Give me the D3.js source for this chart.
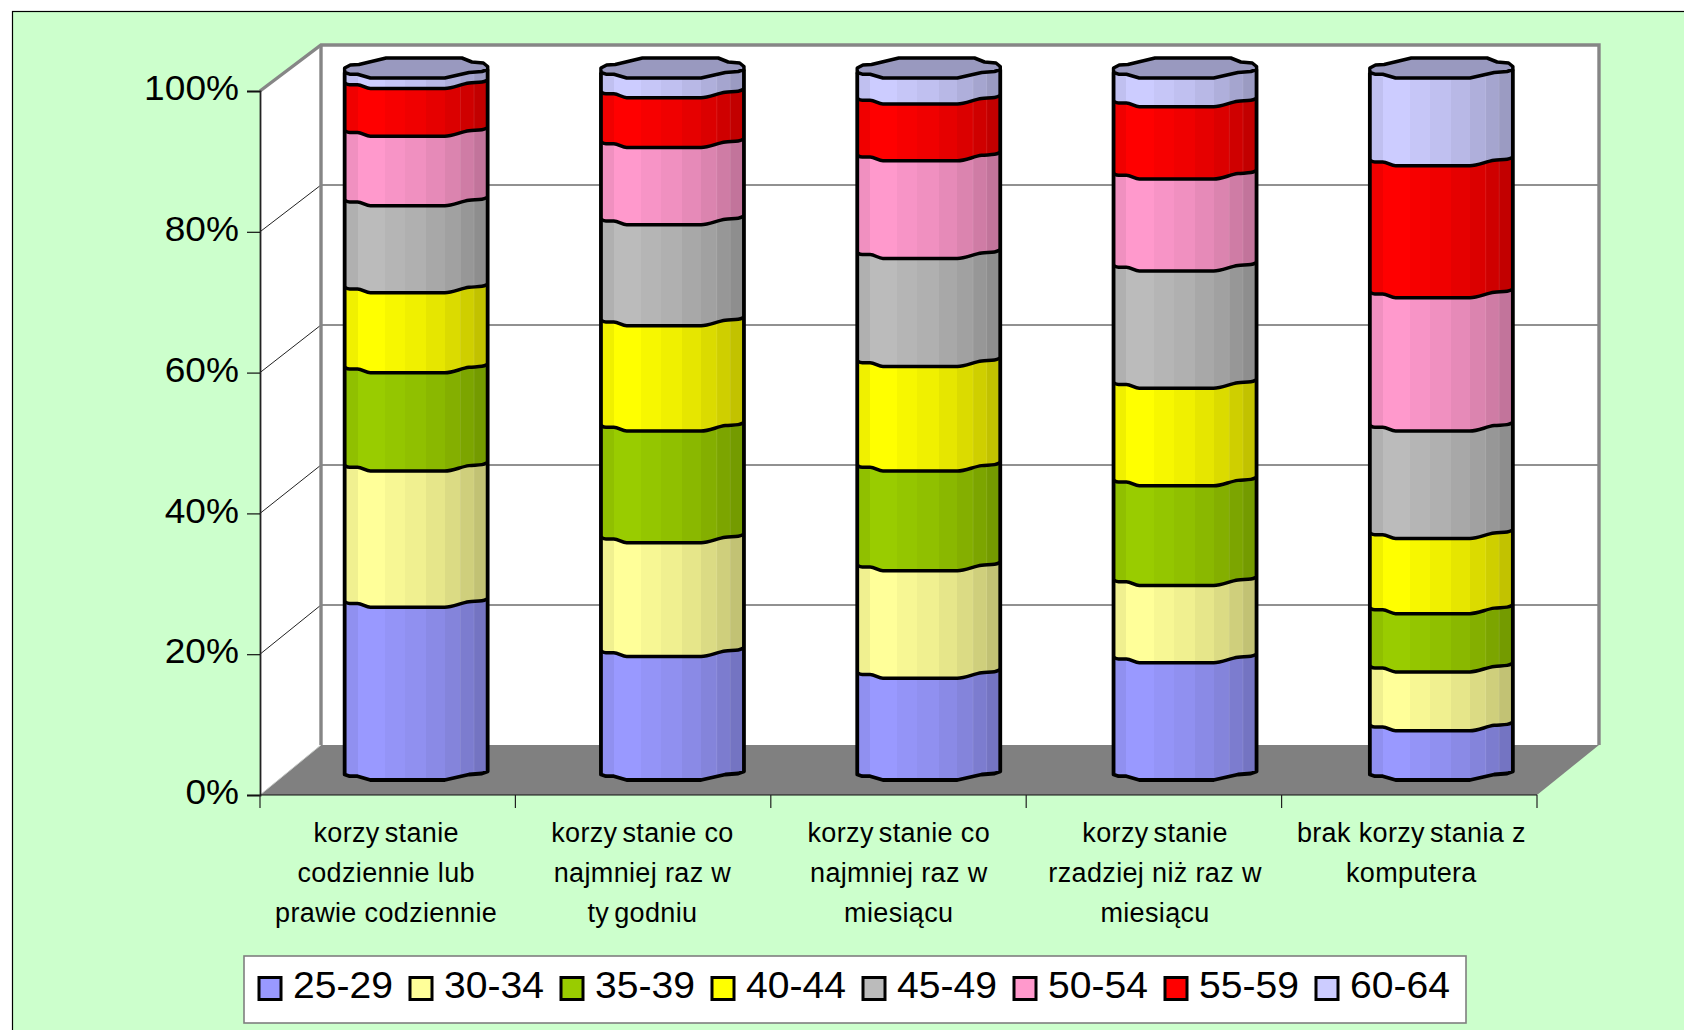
<!DOCTYPE html>
<html lang="pl">
<head>
<meta charset="utf-8">
<title>Korzystanie z komputera a wiek</title>
<script src="https://cdn.jsdelivr.net/npm/d3@7/dist/d3.min.js"></script>
<style>
  html, body { margin: 0; padding: 0; background: #fff; }
  svg { display: block; font-family: "Liberation Sans", Arial, sans-serif; }
</style>
</head>
<body>
<svg id="chart" width="1684" height="1030"></svg>
<script>
// Usage groups, one stacked cylinder each; each group is wrapped over several label lines.
const categories = [
  ["korzystanie", "codziennie lub", "prawie codziennie"],
  ["korzystanie co", "najmniej raz w", "tygodniu"],
  ["korzystanie co", "najmniej raz w", "miesiącu"],
  ["korzystanie", "rzadziej niż raz w", "miesiącu"],
  ["brak korzystania z", "komputera"]
];
const ageGroups = ["25-29", "30-34", "35-39", "40-44", "45-49", "50-54", "55-59", "60-64"];
const colours = ["#9999ff", "#ffff99", "#99cc00", "#ffff00", "#bbbbbb", "#ff99cc", "#ff0000", "#ccccff"];

// Percentage share of each age group in the five usage groups.
const age2529 = [24.6, 17.6, 14.5, 16.7, 7.0];
const age3034 = [19.4, 16.2, 15.3, 11.0, 8.4];
const age3539 = [14.0, 15.9, 14.2, 14.2, 8.3];
const age4044 = [11.4, 15.0, 14.9, 13.9, 10.7];
const age4549 = [12.4, 14.4, 15.4, 16.7, 15.3];
const age5054 = [9.9, 11.0, 13.9, 13.1, 19.0];
const age5559 = [6.8, 7.1, 8.1, 10.3, 18.8];
const age6064 = [1.5, 2.8, 3.7, 4.1, 12.5];
const seriesValues = [age2529, age3034, age3539, age4044, age4549, age5054, age5559, age6064];
const yTicks = [0, 0.2, 0.4, 0.6, 0.8, 1];

// Faceted cylinder outline: offsets along the bar width for a band edge, and for the cap's far rim.
const rimNear = [[0, -5.5], [0.035, -3.8], [0.09, -3.8], [0.18, 0], [0.7, 0], [0.87, -5.5], [0.96, -6.5], [1, -8.5]];
const rimFar = [[1, -11.5], [0.97, -15], [0.89, -16], [0.82, -20], [0.29, -20], [0.1, -13.5], [0.04, -13], [0, -10]];
// Brightness of the vertical facets, left to right.
const facets = [[0, 0.09, 0.94], [0.09, 0.28, 1], [0.28, 0.42, 0.97], [0.42, 0.57, 0.94], [0.57, 0.7, 0.9], [0.7, 0.81, 0.86], [0.81, 0.905, 0.81], [0.905, 1, 0.76]];

const svg = d3.select("#chart");
const front = { left: 260, right: 1537, top: 91, bottom: 795 };
const back = { left: 321, right: 1599, top: 45, bottom: 745 };
const barWidth = 143;

const x = d3.scaleBand().domain(d3.range(categories.length)).range([front.left, front.right]);
// The cylinders stand further back than the axis, so they get their own slightly wider band.
const xBar = d3.scaleBand().domain(d3.range(categories.length)).range([288, 288 + 5 * 256.3]);
const yFront = d3.scaleLinear().domain([0, 1]).range([front.bottom, front.top]);
const yBack = d3.scaleLinear().domain([0, 1]).range([back.bottom, back.top]);
const yBar = d3.scaleLinear().domain([0, 1]).range([780, 78]);

// Horizontal widening of the drawn text
function stretch(sel, k) {
  sel.each(function () {
    d3.select(this).attr("textLength", this.getComputedTextLength() * k).attr("lengthAdjust", "spacingAndGlyphs");
  });
}

// Chart area
svg.append("rect").attr("x", 12.5).attr("y", 11.5).attr("width", 1700).attr("height", 1050)
  .attr("fill", "#ccffcc").attr("stroke", "#000").attr("stroke-width", 1.2);

// One stepped gradient per age group
const defs = svg.append("defs");
colours.forEach((c, i) => {
  const g = defs.append("linearGradient").attr("id", "facet" + i);
  const base = d3.rgb(c);
  facets.forEach(([a, b, k]) => {
    const col = d3.rgb(base.r * k, base.g * k, base.b * k).formatHex();
    g.append("stop").attr("offset", a).attr("stop-color", col);
    g.append("stop").attr("offset", b).attr("stop-color", col);
  });
});

// Walls and floor
const wallPts = [[front.left, front.top], [back.left, back.top], [back.right, back.top], [back.right, back.bottom], [back.left, back.bottom], [front.left, front.bottom]];
svg.append("polygon").attr("points", wallPts.join(" ")).attr("fill", "#fff");
svg.append("polygon")
  .attr("points", [[front.left, front.bottom], [back.left, back.bottom], [back.right, back.bottom], [front.right, front.bottom]].join(" "))
  .attr("fill", "#808080");

// Gridlines run along the side wall and then across the back wall
svg.append("g").selectAll("path").data(yTicks.slice(1, -1)).join("path")
  .attr("d", t => d3.line()([[front.left, yFront(t)], [back.left, yBack(t)], [back.right, yBack(t)]]))
  .attr("fill", "none").attr("stroke", "#222").attr("stroke-width", 1);

svg.append("path")
  .attr("d", d3.line()([[front.left, front.top], [back.left, back.top], [back.right, back.top], [back.right, back.bottom]]))
  .attr("fill", "none").attr("stroke", "#868686").attr("stroke-width", 3.4);
svg.append("line").attr("x1", back.left).attr("x2", back.left).attr("y1", back.top).attr("y2", back.bottom)
  .attr("stroke", "#868686").attr("stroke-width", 3.4);
svg.append("line").attr("x1", front.left).attr("x2", back.left).attr("y1", front.bottom).attr("y2", back.bottom)
  .attr("stroke", "#c8c8c8").attr("stroke-width", 1);

// Stacked cylinders
const rows = categories.map((_, c) => Object.fromEntries(ageGroups.map((a, s) => [a, seriesValues[s][c]])));
const stacked = d3.stack().keys(ageGroups).offset(d3.stackOffsetExpand)(rows);

const rimPoints = (c, v, rim) => {
  const x0 = xBar(c) + xBar.bandwidth() / 2 - barWidth / 2;
  return rim.map(([f, dy]) => [x0 + f * barWidth, yBar(v) + dy]);
};
const edge = d3.line().curve(d3.curveMonotoneX);
const pathOf = pts => "M" + pts.map(p => p.join(",")).join("L");

const bars = svg.append("g").selectAll("g").data(categories).join("g");
bars.each(function (_, c) {
  const bar = d3.select(this);
  const top = rimPoints(c, 1, rimNear);
  const far = rimPoints(c, 1, rimFar);

  stacked.forEach((layer, s) => {
    const [v0, v1] = layer[c];
    const lower = rimPoints(c, v0, rimNear);
    const upper = rimPoints(c, v1, rimNear);
    bar.append("path")
      .attr("d", pathOf(upper.concat(lower.slice().reverse())) + "Z")
      .attr("fill", `url(#facet${s})`)
      .attr("stroke", "none");
  });

  // Thin light seams on the shaded side of the cylinder
  const x0 = top[0][0];
  [0.81, 0.905].forEach(f => {
    bar.append("line")
      .attr("x1", x0 + f * barWidth).attr("x2", x0 + f * barWidth)
      .attr("y1", yBar(1) - 4).attr("y2", yBar(0) - 6)
      .attr("stroke", "#fff").attr("stroke-opacity", 0.1).attr("stroke-width", 1);
  });

  // Band boundaries and the side and base outlines of the cylinder
  d3.range(1, stacked.length).forEach(s => {
    bar.append("path").attr("d", edge(rimPoints(c, stacked[s][c][0], rimNear)))
      .attr("fill", "none").attr("stroke", "#000").attr("stroke-width", 3.5);
  });
  const base = rimPoints(c, 0, rimNear);
  const outline = [top[0], base[0]].concat(base.slice(1)).concat([top[top.length - 1]]);
  bar.append("path").attr("d", pathOf(outline))
    .attr("fill", "none").attr("stroke", "#000").attr("stroke-width", 3.8).attr("stroke-linejoin", "round");

  // Cap, in a darker shade of the top band's colour
  const capColour = d3.rgb(colours[colours.length - 1]);
  bar.append("path")
    .attr("d", pathOf(top.concat(far)) + "Z")
    .attr("fill", d3.rgb(capColour.r * 0.75, capColour.g * 0.75, capColour.b * 0.75).formatHex())
    .attr("stroke", "#000").attr("stroke-width", 3.5).attr("stroke-linejoin", "round");
});

// Value axis
const yAxis = d3.axisLeft(yFront).tickValues(yTicks).tickFormat(d3.format(".0%")).tickSize(13).tickPadding(8);
const yG = svg.append("g").attr("transform", `translate(${front.left},0)`).call(yAxis);
yG.select(".domain").attr("stroke", "#222").attr("stroke-width", 1.8);
yG.selectAll(".tick line").attr("stroke", "#111").attr("stroke-width", 1.2);
yG.selectAll("text").attr("font-size", 35).attr("font-family", "Liberation Sans").attr("fill", "#000")
  .attr("dy", "0.25em").call(stretch, 1.06);

// Category axis with ticks at the band edges
const edges = d3.range(categories.length + 1).map(i => front.left + i * x.step());
svg.append("line").attr("x1", front.left).attr("x2", front.right).attr("y1", front.bottom).attr("y2", front.bottom)
  .attr("stroke", "#111").attr("stroke-width", 1.2);
svg.append("g").selectAll("line").data(edges).join("line")
  .attr("x1", d => d).attr("x2", d => d).attr("y1", front.bottom).attr("y2", 808)
  .attr("stroke", "#222").attr("stroke-width", 1.2);

// Wrapped category labels; the long words carry a small break after their first syllables
const wordBreak = /^(.*?\b(?:korzy|ty))(.*)$/;
const labels = svg.append("g").selectAll("g").data(categories).join("g")
  .attr("transform", (_, c) => `translate(${xBar(c) + xBar.bandwidth() / 2 - 30},0)`);
labels.selectAll("text").data(d => d).join("text")
  .attr("y", (_, i) => 842 + i * 40)
  .attr("text-anchor", "middle").attr("font-size", 27).attr("letter-spacing", "0.35px").attr("fill", "#000")
  .each(function (d) {
    const m = d.match(wordBreak);
    const t = d3.select(this);
    if (m) {
      t.append("tspan").text(m[1]);
      t.append("tspan").attr("dx", 5).text(m[2]);
    } else {
      t.text(d);
    }
  });

// Legend
svg.append("rect").attr("x", 244).attr("y", 956).attr("width", 1222).attr("height", 67)
  .attr("fill", "#fff").attr("stroke", "#7f7f7f").attr("stroke-width", 1.6);
const legendX = d3.scalePoint().domain(ageGroups).range([259, 259 + 151 * 7]);
const legend = svg.append("g").selectAll("g").data(ageGroups).join("g")
  .attr("transform", d => `translate(${legendX(d)},0)`);
legend.append("rect").attr("y", 977.5).attr("width", 22).attr("height", 22)
  .attr("fill", (_, i) => colours[i]).attr("stroke", "#000").attr("stroke-width", 3);
legend.append("text").attr("x", 34).attr("y", 998).attr("font-size", 36.5).attr("fill", "#000")
  .text(d => d).call(stretch, 1.07);
</script>
</body>
</html>
